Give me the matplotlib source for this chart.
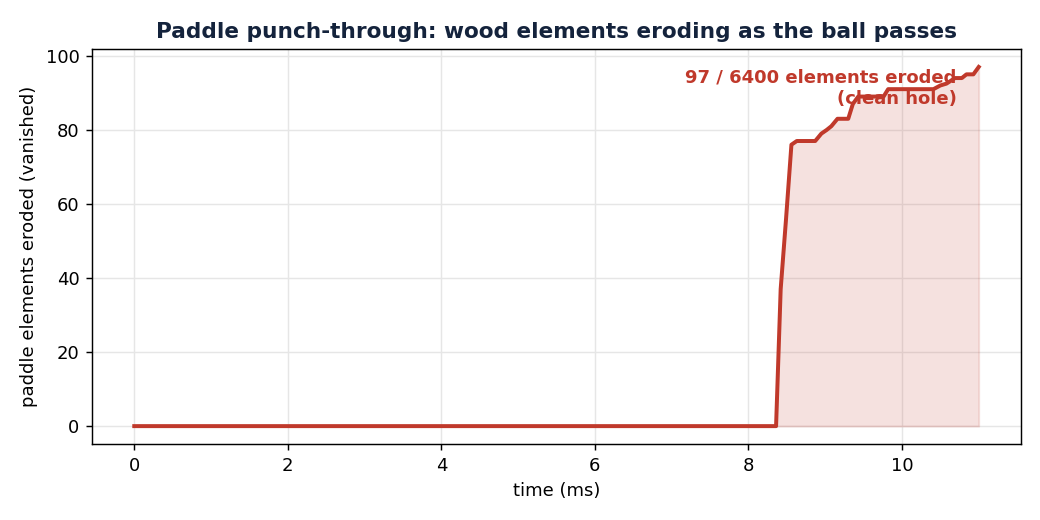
import matplotlib
matplotlib.use("Agg")
import matplotlib.pyplot as plt
import numpy as np

time_ms = [0.0, 8.36, 8.42, 8.49, 8.56, 8.63, 8.87, 8.95, 9.02, 9.08, 9.16, 9.30, 9.36, 9.43, 9.76, 9.82,
           10.41, 10.50, 10.58, 10.69, 10.78, 10.84, 10.93, 11.0]
eroded = [0, 0, 37, 56, 76, 77, 77, 79, 80, 81, 83, 83, 87, 89, 89, 91,
          91, 92, 92.5, 94, 94, 95, 95, 97]
total_elements = 6400
line_color = "#c0392b"

fig, ax = plt.subplots(figsize=(8, 4), dpi=130)
ax.plot(time_ms, eroded, color=line_color, lw=2.2)
ax.fill_between(time_ms, eroded, 0, color=line_color, alpha=0.15)
ax.grid(True, color="#e6e6e6", lw=0.8)
ax.set_axisbelow(True)
ax.set_xlabel("time (ms)", fontsize=10)
ax.set_ylabel("paddle elements eroded (vanished)", fontsize=10)
ax.set_title("Paddle punch-through: wood elements eroding as the ball passes",
             fontsize=12, fontweight="bold", color="#14233c")
ax.tick_params(labelsize=10)
ax.text(0.931, 0.95, f"{int(eroded[-1])} / {total_elements} elements eroded\n(clean hole)",
        transform=ax.transAxes, ha="right", va="top", color=line_color,
        fontsize=10, fontweight="bold")
fig.subplots_adjust(left=0.0885, right=0.9817, top=0.9058, bottom=0.146)
fig.savefig("out.png", dpi=130)
